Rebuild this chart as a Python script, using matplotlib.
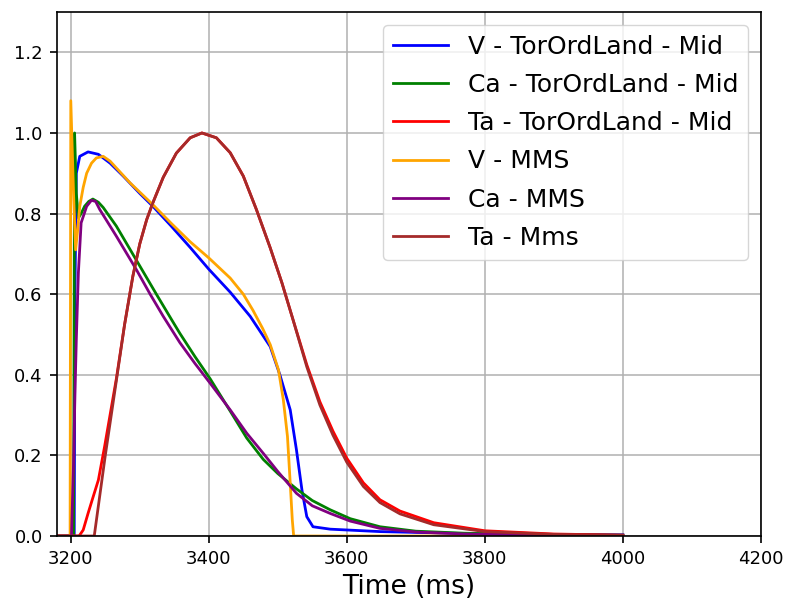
import matplotlib
matplotlib.use("Agg")
from matplotlib import pyplot as plt

# V - TorOrdLand - Mid
t_v_tor = [3180, 3205, 3206, 3208, 3213, 3225, 3240, 3257, 3276, 3300, 3319, 3345, 3373, 3400, 3431, 3460,
           3489, 3503, 3518, 3527, 3535, 3542, 3551, 3576, 3648, 3800, 4000]
v_tor = [0, 0, 0.6, 0.9, 0.942, 0.953, 0.947, 0.925, 0.893, 0.85, 0.818, 0.77, 0.716, 0.662, 0.605, 0.545,
         0.47, 0.40, 0.313, 0.214, 0.114, 0.048, 0.023, 0.017, 0.011, 0.005, 0.003]

# Ca - TorOrdLand - Mid
t_ca_tor = [3180, 3204, 3205.5, 3208, 3211, 3215, 3220, 3226, 3232, 3240, 3247, 3266, 3300, 3324, 3346, 3358,
            3380, 3402, 3431, 3455, 3479, 3500, 3527, 3550, 3576, 3605, 3648, 3700, 3770, 3900, 4000]
ca_tor = [0, 0, 1.0, 0.85, 0.789, 0.8, 0.818, 0.83, 0.836, 0.828, 0.815, 0.769, 0.67, 0.6, 0.537, 0.503,
          0.445, 0.39, 0.31, 0.243, 0.19, 0.155, 0.117, 0.088, 0.065, 0.043, 0.023, 0.012, 0.007, 0.003, 0.002]

# Ta - TorOrdLand - Mid
t_ta_tor = [3180, 3212, 3218, 3225, 3232, 3240, 3249, 3259, 3266, 3278, 3290, 3300, 3310, 3319, 3334, 3353,
            3373, 3390, 3411, 3431, 3450, 3469, 3489, 3506, 3522, 3542, 3561, 3580, 3600, 3624, 3648, 3677,
            3726, 3800, 3900, 4000]
ta_tor = [0, 0, 0.015, 0.056, 0.095, 0.139, 0.222, 0.321, 0.39, 0.525, 0.645, 0.725, 0.785, 0.827, 0.89, 0.95,
          0.988, 1.0, 0.988, 0.951, 0.893, 0.81, 0.715, 0.628, 0.537, 0.425, 0.333, 0.26, 0.193, 0.132, 0.09,
          0.062, 0.033, 0.013, 0.005, 0.002]

# V - MMS
t_v_mms = [3180, 3199, 3200, 3204, 3207, 3210, 3213, 3218, 3223, 3230, 3237, 3247, 3257, 3286, 3319, 3346,
           3373, 3400, 3431, 3450, 3464, 3478, 3489, 3501, 3508, 3514, 3518, 3521, 3523, 4000]
v_mms = [0, 0, 1.08, 0.85, 0.71, 0.76, 0.818, 0.865, 0.90, 0.925, 0.938, 0.942, 0.93, 0.876, 0.822, 0.775,
         0.73, 0.69, 0.64, 0.60, 0.56, 0.515, 0.475, 0.412, 0.338, 0.247, 0.131, 0.04, 0.0, 0.0]

# Ca - MMS
t_ca_mms = [3180, 3201, 3204, 3206, 3208, 3211, 3215, 3223, 3230, 3236, 3242, 3266, 3295, 3315, 3334, 3358,
            3380, 3402, 3431, 3455, 3479, 3500, 3527, 3550, 3576, 3605, 3648, 3700, 3770, 3900, 4000]
ca_mms = [0, 0, 0.18, 0.35, 0.487, 0.653, 0.777, 0.818, 0.833, 0.83, 0.81, 0.744, 0.661, 0.6, 0.545, 0.48,
          0.428, 0.379, 0.313, 0.255, 0.205, 0.16, 0.106, 0.075, 0.056, 0.037, 0.019, 0.01, 0.005, 0.002, 0.001]

# Ta - Mms
t_ta_mms = [3180, 3234, 3250, 3266, 3278, 3290, 3300, 3310, 3319, 3334, 3353, 3373, 3390, 3411, 3431, 3450,
            3469, 3489, 3506, 3522, 3542, 3561, 3580, 3600, 3624, 3648, 3677, 3726, 3800, 3900, 4000]
ta_mms = [0, 0, 0.2, 0.385, 0.525, 0.645, 0.725, 0.785, 0.827, 0.89, 0.95, 0.988, 1.0, 0.988, 0.951, 0.893,
          0.81, 0.715, 0.628, 0.537, 0.42, 0.325, 0.25, 0.183, 0.123, 0.083, 0.055, 0.028, 0.011, 0.004, 0.002]

plt.rcParams["axes.linewidth"] = 1.2
plt.rcParams["grid.linewidth"] = 1.1
plt.rcParams["xtick.major.size"] = 5.25
plt.rcParams["ytick.major.size"] = 5.25
plt.rcParams["xtick.major.width"] = 1.2
plt.rcParams["ytick.major.width"] = 1.2
plt.rcParams["xtick.major.pad"] = 5.0
plt.rcParams["ytick.major.pad"] = 5.0

fig = plt.figure(figsize=(7.86, 6.02), dpi=100)
ax = fig.add_axes([0.0725, 0.1096, 0.8955, 0.8704])

lw = 2.0
ax.plot(t_v_tor, v_tor, color="blue", lw=lw, label="V - TorOrdLand - Mid")
ax.plot(t_ca_tor, ca_tor, color="green", lw=lw, label="Ca - TorOrdLand - Mid")
ax.plot(t_ta_tor, ta_tor, color="red", lw=lw, label="Ta - TorOrdLand - Mid")
ax.plot(t_v_mms, v_mms, color="orange", lw=lw, label="V - MMS")
ax.plot(t_ca_mms, ca_mms, color="purple", lw=lw, label="Ca - MMS")
ax.plot(t_ta_mms, ta_mms, color="brown", lw=lw, label="Ta - Mms")

ax.set_xlim(3180, 4200)
ax.set_ylim(0, 1.3)
ax.set_xticks([3200, 3400, 3600, 3800, 4000, 4200])
ax.set_yticks([0.0, 0.2, 0.4, 0.6, 0.8, 1.0, 1.2])
ax.tick_params(labelsize=13)
ax.grid(True)
ax.set_xlabel("Time (ms)", fontsize=19, labelpad=4)
ax.legend(loc="upper right", fontsize=18, labelspacing=0.57, handlelength=2.2)

fig.savefig("out.png", dpi=100)
